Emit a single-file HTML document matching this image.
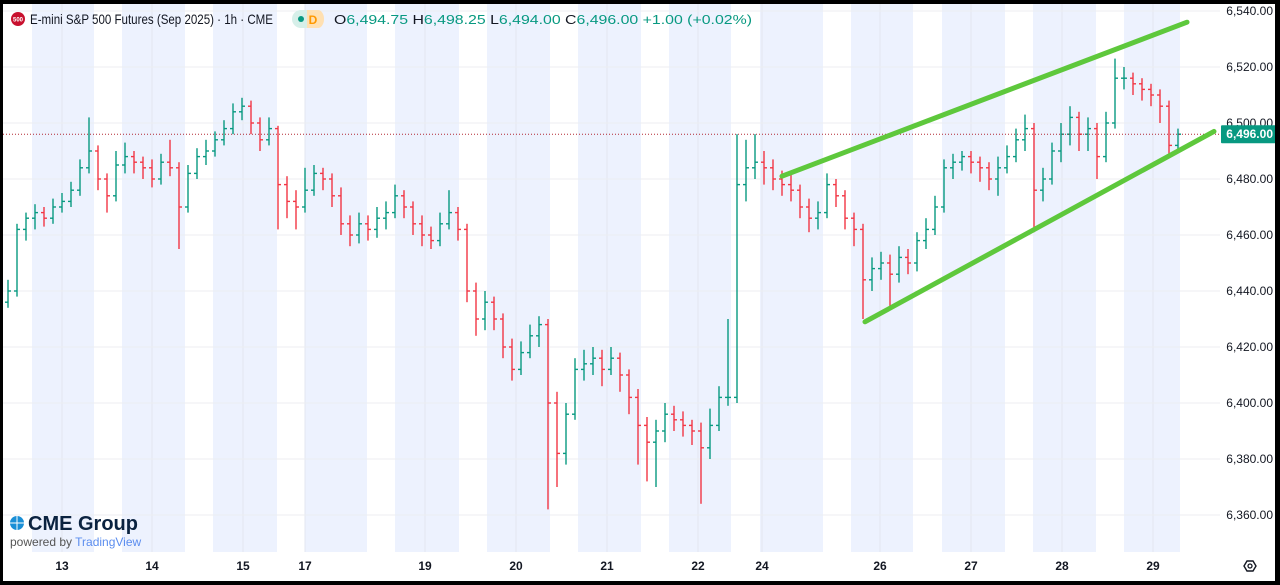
<!DOCTYPE html>
<html><head><meta charset="utf-8"><style>
html,body{margin:0;padding:0;background:#000;}
#wrap{position:absolute;left:3px;top:4px;width:1272px;height:577px;background:#fff;overflow:hidden;font-family:"Liberation Sans",sans-serif;}
svg{position:absolute;left:-3px;top:-4px;}
</style></head><body>
<div id="wrap">
<svg id="chart" width="1280" height="585"></svg>
</div>
<script>
const dayLabels=["13","14","15","17","19","20","21","22","24","26","27","28","29"];
const dayLabelX=[62,152,243,305,425,516,607,698,762,880,971,1062,1153];
const priceTicks=[6540,6520,6500,6480,6460,6440,6420,6400,6380,6360];
const firstOpen=6436;
const closes=[6440,6462,6466,6468,6466,6470,6472,6476,6484,6490,6480,6474,6485,6488,6486,6484,6480,6486,6484,6470,6482,6488,6490,6494,6498,6504,6506,6500,6494,6498,6478,6472,6470,6476,6482,6480,6474,6464,6460,6464,6462,6466,6468,6474,6470,6464,6460,6458,6464,6468,6462,6440,6430,6436,6430,6420,6412,6418,6424,6428,6400,6382,6396,6412,6414,6416,6412,6416,6410,6402,6392,6386,6390,6396,6394,6392,6390,6384,6392,6402,6402,6478,6484,6486,6484,6480,6478,6476,6470,6466,6468,6478,6474,6466,6462,6444,6448,6450,6446,6452,6450,6458,6462,6470,6484,6486,6488,6486,6484,6480,6484,6488,6494,6498,6476,6480,6490,6496,6502,6496,6498,6488,6500,6516,6516,6514,6512,6510,6506,6492,6496];
const highs=[6444,6464,6468,6471,6470,6473,6475,6479,6487,6502,6492,6482,6490,6493,6490,6488,6487,6489,6494,6486,6485,6491,6494,6497,6501,6507,6509,6508,6502,6502,6499,6481,6476,6484,6485,6484,6482,6477,6467,6468,6467,6470,6472,6478,6476,6472,6467,6463,6468,6476,6470,6464,6443,6440,6438,6432,6423,6422,6428,6431,6430,6404,6400,6416,6419,6420,6419,6420,6418,6412,6405,6395,6394,6400,6399,6397,6394,6393,6398,6406,6430,6496,6494,6496,6490,6487,6483,6482,6478,6473,6472,6482,6480,6476,6468,6464,6452,6454,6453,6456,6455,6461,6466,6474,6487,6489,6490,6490,6488,6486,6488,6492,6498,6503,6500,6484,6493,6500,6506,6504,6502,6500,6504,6523,6520,6518,6516,6514,6512,6508,6498];
const lows=[6434,6438,6458,6462,6463,6464,6468,6470,6474,6482,6476,6468,6472,6482,6482,6480,6477,6478,6481,6455,6468,6480,6485,6488,6492,6496,6501,6496,6490,6492,6462,6466,6462,6468,6474,6476,6470,6460,6456,6457,6458,6459,6462,6466,6466,6460,6456,6455,6456,6462,6458,6436,6424,6426,6426,6416,6408,6410,6416,6420,6362,6370,6378,6394,6408,6410,6406,6410,6404,6396,6378,6372,6370,6386,6390,6388,6385,6364,6380,6390,6399,6400,6472,6480,6478,6476,6474,6472,6466,6461,6462,6466,6470,6462,6456,6430,6440,6444,6434,6443,6446,6447,6455,6460,6468,6480,6483,6482,6479,6476,6474,6482,6486,6490,6461,6472,6478,6486,6492,6490,6490,6480,6486,6498,6512,6510,6508,6506,6500,6488,6490];
const lastPrice=6496;
const upperTrend=[[0,6481],[1,6536]];
const lowerTrend=[[0,6429],[1,6497]];

const NS="http://www.w3.org/2000/svg";
const svg=document.getElementById('chart');
const y=p=>11+(6540-p)*2.8;
const x=i=>8+i*9;
function mk(t,a,parent){const e=document.createElementNS(NS,t);for(const k in a)e.setAttribute(k,a[k]);(parent||svg).appendChild(e);return e;}

const bands=[[32,94],[122,185],[213,277],[305,367],[395,459],[487,550],[578,641],[669,731],[760,823],[851,913],[942,1005],[1033,1096],[1124,1180]];
bands.forEach(b=>{const r=mk('rect',{x:b[0],y:4,width:b[1]-b[0],height:548,fill:'#edf2fe'});

});
dayLabelX.forEach(gx=>{const l=mk('line',{x1:gx,x2:gx,y1:4,y2:552,stroke:'#e3e7f0','stroke-width':1});

});
priceTicks.forEach(p=>{const l=mk('line',{x1:0,x2:1220,y1:y(p),y2:y(p),stroke:'#eceef2','stroke-width':1});


const t=mk('text',{x:1273,y:y(p)+4,'text-anchor':'end','font-size':12,fill:'#131722'});
t.textContent=p.toLocaleString('en-US',{minimumFractionDigits:2});

});
dayLabels.forEach((d,i)=>{const t=mk('text',{x:dayLabelX[i],y:570,'text-anchor':'middle','font-size':12,'font-weight':'bold',fill:'#131722'});
t.textContent=d;

});

closes.forEach((c,i)=>{const o=i?closes[i-1]:firstOpen;const col=c>=o?'#089981':'#f23645';const g=mk('g',{stroke:col,'stroke-width':1.4});


const cx=x(i);mk('line',{x1:cx,x2:cx,y1:y(highs[i]),y2:y(lows[i])},g);
mk('line',{x1:cx-3,x2:cx,y1:y(o),y2:y(o)},g);mk('line',{x1:cx,x2:cx+3,y1:y(c),y2:y(c)},g);});

const pl=mk('line',{x1:0,x2:1220,y1:y(lastPrice),y2:y(lastPrice),stroke:'#b22833','stroke-width':1,'stroke-dasharray':'1,2'});



const ut=mk('line',{x1:782,y1:y(upperTrend[0][1]),x2:1187,y2:y(upperTrend[1][1]),stroke:'#5ec83c','stroke-width':5,'stroke-linecap':'round'});


const lt=mk('line',{x1:865,y1:y(lowerTrend[0][1]),x2:1214,y2:y(lowerTrend[1][1]),stroke:'#5ec83c','stroke-width':5,'stroke-linecap':'round'});



const lb=mk('rect',{x:1221,y:y(lastPrice)-9,width:55,height:18,fill:'#089981',rx:1});


const lbt=mk('text',{x:1273,y:y(lastPrice)+4,'text-anchor':'end','font-size':12,'font-weight':'bold',fill:'#fff'});
lbt.textContent=lastPrice.toLocaleString('en-US',{minimumFractionDigits:2});


</script>
<svg width="1280" height="585" style="position:absolute;left:0;top:0;pointer-events:none">
<g font-family="Liberation Sans, sans-serif">
<circle cx="18" cy="19" r="7" fill="#c8102e"/>
<text x="18" y="21.5" font-size="6" fill="#fff" text-anchor="middle" font-weight="bold">500</text>
<text x="30" y="24" font-size="14" fill="#131722" textLength="243" lengthAdjust="spacingAndGlyphs">E-mini S&amp;P 500 Futures (Sep 2025) · 1h · CME</text>
<rect x="292" y="10" width="32" height="18" rx="9" fill="#d6efe9"/>
<rect x="307" y="10" width="10" height="18" fill="#ffe0b2"/>
<rect x="312" y="10" width="12" height="18" rx="9" fill="#ffe0b2"/>
<circle cx="301" cy="19" r="3" fill="#089981"/>
<text x="313" y="24" font-size="12" fill="#ff9800" font-weight="bold" text-anchor="middle">D</text>
<text x="334" y="24" font-size="13" fill="#131722" textLength="418" lengthAdjust="spacingAndGlyphs">O<tspan fill="#089981">6,494.75</tspan> H<tspan fill="#089981">6,498.25</tspan> L<tspan fill="#089981">6,494.00</tspan> C<tspan fill="#089981">6,496.00</tspan> <tspan fill="#089981">+1.00 (+0.02%)</tspan></text>
</g>
<g font-family="Liberation Sans, sans-serif">
<circle cx="17" cy="523" r="7" fill="#1a8fd6"/>
<line x1="10" y1="523" x2="24" y2="523" stroke="#fff" stroke-width="1"/>
<line x1="17" y1="516" x2="17" y2="530" stroke="#fff" stroke-width="1"/>
<text x="28" y="530" font-size="20" fill="#0b2340" font-weight="bold">CME Group</text>
<text x="10" y="546" font-size="12" fill="#555">powered by <tspan fill="#5b8def">TradingView</tspan></text>
</g>
<g>
<polygon points="1244,566 1247,561 1253,561 1256,566 1253,571 1247,571" fill="none" stroke="#131722" stroke-width="1.4"/>
<circle cx="1250" cy="566" r="2" fill="none" stroke="#131722" stroke-width="1.3"/>
</g>
</svg>
</body></html>
